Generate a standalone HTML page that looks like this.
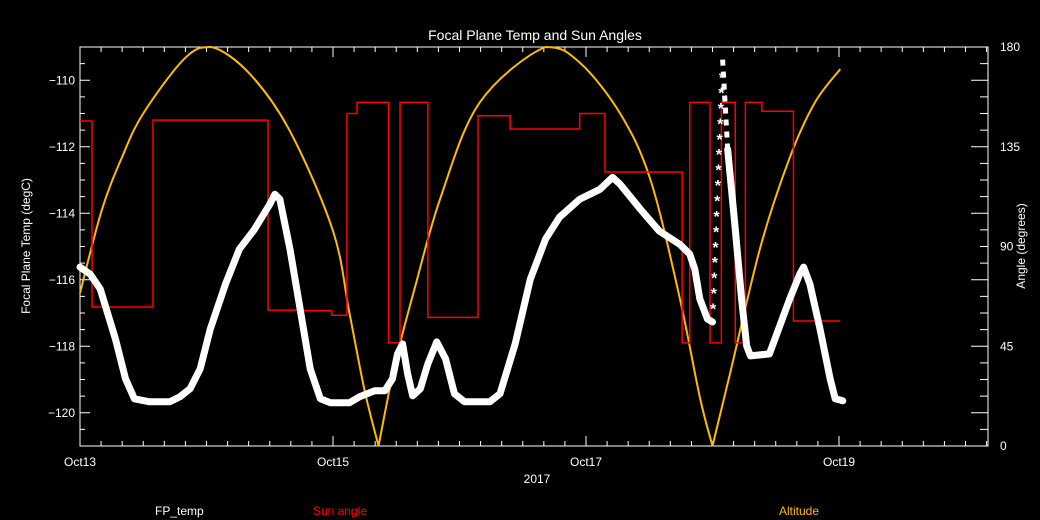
<!DOCTYPE html>
<html><head><meta charset="utf-8"><style>
html,body{margin:0;padding:0;background:#000;}
svg{display:block;font-family:"Liberation Sans",sans-serif;}
</style></head><body>
<svg id="chart" width="1040" height="520" viewBox="0 0 1040 520" xmlns="http://www.w3.org/2000/svg">
<rect x="0" y="0" width="1040" height="520" fill="#000"/>
<text x="535" y="40" fill="#fff" font-size="14" text-anchor="middle">Focal Plane Temp and Sun Angles</text>
<text transform="translate(30,246) rotate(-90)" fill="#fff" font-size="12" text-anchor="middle">Focal Plane Temp (degC)</text>
<text transform="translate(1025,246) rotate(-90)" fill="#fff" font-size="12" text-anchor="middle">Angle (degrees)</text>
<text x="537" y="483" fill="#fff" font-size="12" text-anchor="middle">2017</text>
<text x="155" y="515" fill="#fff" font-size="12">FP_temp</text>
<text x="313" y="515" fill="#ff0000" font-size="12">Sun angle</text>
<text x="779" y="515" fill="#ffbb00" font-size="12">Altitude</text>
<g id="plot"></g>
</svg>
<script>
const xTickLabels = ["Oct13","Oct15","Oct17","Oct19"];
const xTickDays = [0,2,4,6];
const yTickValues = [-110,-112,-114,-116,-118,-120];
const y2TickValues = [0,45,90,135,180];
const tempDays = [0,0.08,0.16,0.28,0.36,0.43,0.55,0.71,0.79,0.87,0.95,1.03,1.15,1.26,1.38,1.50,1.54,1.58,1.66,1.74,1.82,1.90,1.98,2.13,2.21,2.33,2.41,2.47,2.51,2.55,2.59,2.63,2.69,2.75,2.82,2.89,2.96,3.04,3.24,3.32,3.44,3.56,3.68,3.79,3.95,4.11,4.21,4.27,4.43,4.58,4.74,4.82,4.86,4.90,4.96,5.00];
const tempValues = [-115.62,-115.83,-116.28,-117.78,-118.98,-119.58,-119.67,-119.67,-119.52,-119.28,-118.68,-117.48,-116.13,-115.08,-114.48,-113.73,-113.43,-113.58,-115.08,-116.88,-118.68,-119.58,-119.70,-119.70,-119.52,-119.34,-119.34,-118.98,-118.23,-117.93,-118.83,-119.49,-119.28,-118.53,-117.87,-118.38,-119.43,-119.67,-119.67,-119.43,-117.93,-115.98,-114.78,-114.12,-113.58,-113.28,-112.92,-113.13,-113.88,-114.54,-114.93,-115.23,-115.68,-116.58,-117.18,-117.27];
const tempDays2 = [5.08,5.12,5.18,5.23,5.27,5.30,5.45,5.61,5.69,5.72,5.77,5.85,5.93,5.97,6.03];
const tempValues2 = [-109.38,-112.08,-114.48,-116.58,-117.99,-118.29,-118.23,-116.58,-115.83,-115.62,-116.13,-117.48,-118.98,-119.58,-119.64];
const sunDays = [0,0.095,0.577,1.486,1.74,1.99,2.11,2.19,2.44,2.53,2.75,3.146,3.40,3.95,4.15,4.76,4.82,4.98,5.07,5.18,5.26,5.39,5.64,6.01];
const sunValues = [146.6,62.7,147,61.3,61,59,150,155,46.5,155,58,149,143,150,123.6,46.5,155,46.5,155,46.5,155,151,56.4,56.4];
const altDays = [0,0.17,0.33,0.50,0.83,1.04,1.34,1.66,2.00,2.13,2.25,2.36,2.49,2.65,2.85,3.16,3.68,3.95,4.27,4.51,4.74,4.90,5.00,5.14,5.38,5.61,5.81,6.01];
const altValues = [69,106,130,150,175,180,168,142,97,60,25,0,37,72,112,155,180,173,150,120,67,22,0,33,90,130,155,170];

const L=80,R=988,T=47,B=446;
const xs=d=>L+d*126.5;
const ys=v=>T+(-109-v)*(B-T)/12;
const y2=a=>B-a*(B-T)/180;
const NS="http://www.w3.org/2000/svg";
const g=document.getElementById('plot');
function mk(tag,attrs){const e=document.createElementNS(NS,tag);for(const k in attrs)e.setAttribute(k,attrs[k]);g.appendChild(e);return e;}

let e=mk('rect',{x:L,y:T,width:R-L,height:B-T,fill:'none',stroke:'#fff','stroke-width':1});


for(let i=0;i*126.5/6<=R-L+0.5;i++){const x=L+i*126.5/6;const len=(i%12===0)?10:5;
 e=mk('path',{d:`M${x},${B}v${-len}M${x},${T}v${len}`,stroke:'#fff','stroke-width':1});
 
 }
xTickDays.forEach((d,i)=>{e=mk('text',{x:xs(d),y:466,fill:'#fff','font-size':12,'text-anchor':'middle'});e.textContent=xTickLabels[i];
 
 });
for(let v=-109;v>=-121;v-=0.5){const y=ys(v);const len=(Math.abs(v%2)===0)?10:5;
 e=mk('path',{d:`M${L},${y}h${len}`,stroke:'#fff','stroke-width':1});
 
 }
yTickValues.forEach(v=>{e=mk('text',{x:L-5,y:ys(v)+4,fill:'#fff','font-size':12,'text-anchor':'end'});e.textContent='\u2212'+Math.abs(v);
 
 });
for(let a=0;a<=180;a+=7.5){const y=y2(a);const len=((a-15)%30===0)?17:8;
 e=mk('path',{d:`M${R},${y}h${-len}`,stroke:'#fff','stroke-width':1});
 
 }
y2TickValues.forEach(a=>{e=mk('text',{x:1000,y:y2(a)+4,fill:'#fff','font-size':12});e.textContent=a;
 
 });

function spline(pts){let d=`M${pts[0][0]},${pts[0][1]}`;
 for(let i=0;i<pts.length-1;i++){const p0=pts[i-1]||pts[i],p1=pts[i],p2=pts[i+1],p3=pts[i+2]||p2;
  const c1=[p1[0]+(p2[0]-p0[0])/6,p1[1]+(p2[1]-p0[1])/6],c2=[p2[0]-(p3[0]-p1[0])/6,p2[1]-(p3[1]-p1[1])/6];
  d+=`C${c1[0]},${Math.max(T,Math.min(c1[1],B))} ${c2[0]},${Math.max(T,Math.min(c2[1],B))} ${p2[0]},${p2[1]}`;}return d;}
let segs=[[]];
altDays.forEach((d,i)=>{const p=[xs(d),y2(altValues[i])];segs[segs.length-1].push(p);if(altValues[i]===0&&i>0&&i<altDays.length-1)segs.push([p]);});
segs.forEach(s=>{e=mk('path',{d:spline(s),fill:'none',stroke:'#ffbb00','stroke-width':2});
 
 });

let sd=`M${xs(sunDays[0])},${y2(sunValues[0])}`;
for(let i=1;i<sunDays.length;i++){sd+=`H${xs(sunDays[i])}V${y2(sunValues[i])}`;}
e=mk('path',{d:sd,fill:'none',stroke:'#ff0000','stroke-width':1.5});



function poly(ds,vs){return ds.map((d,i)=>`${xs(d)},${ys(vs[i])}`).join(' ');}
e=mk('polyline',{points:poly(tempDays,tempValues),fill:'none',stroke:'#fff','stroke-width':7,'stroke-linejoin':'round','stroke-linecap':'round'});


e=mk('polyline',{points:poly(tempDays2.slice(1),tempValues2.slice(1)),fill:'none',stroke:'#fff','stroke-width':7,'stroke-linejoin':'round','stroke-linecap':'round'});


e=mk('polyline',{points:poly(tempDays2.slice(0,2),tempValues2.slice(0,2)),fill:'none',stroke:'#fff','stroke-width':5,'stroke-dasharray':'6 6'});


const a0=tempDays.length-1;
for(let k=1;k<17;k++){const f=k/17;const d=tempDays[a0]+(tempDays2[0]-tempDays[a0])*f;const v=tempValues[a0]+(tempValues2[0]-tempValues[a0])*f;
 e=mk('text',{x:xs(d),y:ys(v)+8,fill:'#fff','font-size':16,'font-weight':'bold','text-anchor':'middle'});e.textContent='*';
 
 }
</script>
</body></html>
